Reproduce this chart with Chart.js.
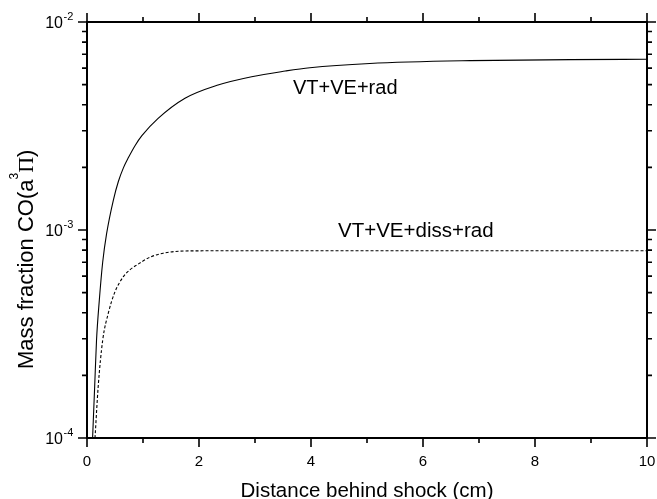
<!DOCTYPE html>
<html>
<head>
<meta charset="utf-8">
<script src="https://cdn.jsdelivr.net/npm/chart.js@4/dist/chart.umd.min.js"></script>
<style>
  html, body { margin: 0; padding: 0; background: #fff; }
  canvas { display: block; }
</style>
</head>
<body>
<canvas id="viz" width="657" height="499"></canvas>
<script>
// VT+VE+rad (solid)
var radX = [0.10, 0.137, 0.17, 0.22, 0.28, 0.35, 0.47, 0.56, 0.65, 0.74, 0.86, 0.98, 1.27, 1.75, 2.34, 2.94, 3.54, 3.98, 5.05, 6.84, 8.63, 10];
var radY = [1.0e-4, 1.77e-4, 2.95e-4, 4.6e-4, 7.0e-4, 9.6e-4, 1.39e-3, 1.71e-3, 1.99e-3, 2.23e-3, 2.55e-3, 2.84e-3, 3.44e-3, 4.30e-3, 4.98e-3, 5.46e-3, 5.81e-3, 6.03e-3, 6.32e-3, 6.52e-3, 6.59e-3, 6.62e-3];

// VT+VE+diss+rad (dashed)
var dissX = [0.143, 0.20, 0.28, 0.38, 0.49, 0.65, 0.77, 0.89, 1.125, 1.36, 1.66, 2.0, 2.49, 4, 6, 8, 10];
var dissY = [1.0e-4, 1.77e-4, 2.95e-4, 3.98e-4, 4.97e-4, 5.97e-4, 6.45e-4, 6.79e-4, 7.40e-4, 7.73e-4, 7.91e-4, 7.94e-4, 7.95e-4, 7.95e-4, 7.95e-4, 7.95e-4, 7.95e-4];

var xTicks = [0, 1, 2, 3, 4, 5, 6, 7, 8, 9, 10];
var xLabels = ['0', '', '2', '', '4', '', '6', '', '8', '', '10'];
var yDecades = [-4, -3, -2];

var FONT = '"Liberation Sans", Arial, Helvetica, sans-serif';

function toPoints(xs, ys) {
  return xs.map(function (x, i) { return { x: x, y: ys[i] }; });
}

// frame, ticks, labels and titles in the old plotting-package style
var axesPlugin = {
  id: 'axes',
  afterDraw: function (chart) {
    var ctx = chart.ctx;
    var a = chart.chartArea;
    var xs = chart.scales.x;
    var ys = chart.scales.y;
    ctx.save();
    ctx.strokeStyle = '#000';
    ctx.fillStyle = '#000';
    ctx.lineWidth = 2;
    ctx.strokeRect(a.left, a.top, a.right - a.left, a.bottom - a.top);

    // x ticks, bottom and top, pointing out
    ctx.lineWidth = 1.6;
    ctx.beginPath();
    xTicks.forEach(function (v, i) {
      var px = xs.getPixelForValue(v);
      var len = xLabels[i] ? 9 : 5;
      ctx.moveTo(px, a.bottom); ctx.lineTo(px, a.bottom + len);
      ctx.moveTo(px, a.top); ctx.lineTo(px, a.top - len);
    });
    // y ticks, left and right
    yDecades.forEach(function (d, k) {
      for (var m = 1; m <= 9; m++) {
        if (m > 1 && k === yDecades.length - 1) break;
        var py = ys.getPixelForValue(m * Math.pow(10, d));
        var len = m === 1 ? 9 : 5;
        ctx.moveTo(a.left, py); ctx.lineTo(a.left - len, py);
        ctx.moveTo(a.right, py); ctx.lineTo(a.right + len, py);
      }
    });
    ctx.stroke();

    // x tick labels
    ctx.font = '15px ' + FONT;
    ctx.textAlign = 'center';
    ctx.textBaseline = 'alphabetic';
    xTicks.forEach(function (v, i) {
      if (xLabels[i]) ctx.fillText(xLabels[i], xs.getPixelForValue(v), 466);
    });

    // y tick labels 10^n
    yDecades.forEach(function (d) {
      var py = ys.getPixelForValue(Math.pow(10, d));
      ctx.font = '16px ' + FONT;
      ctx.textAlign = 'right';
      ctx.textBaseline = 'alphabetic';
      ctx.fillText('10', 63, py + 6);
      ctx.font = '11px ' + FONT;
      ctx.textAlign = 'left';
      ctx.fillText('-' + (-d), 63.5, py - 2);
    });

    // x title
    ctx.font = '20.5px ' + FONT;
    ctx.textAlign = 'center';
    ctx.fillText('Distance behind shock (cm)', (a.left + a.right) / 2, 497);

    // y title, rotated, with superscript and Greek capital
    ctx.save();
    ctx.translate(33, 369);
    ctx.rotate(-Math.PI / 2);
    ctx.textAlign = 'left';
    ctx.font = '22px ' + FONT;
    var s1 = 'Mass fraction CO(a';
    ctx.fillText(s1, 0, 0);
    var w = ctx.measureText(s1).width;
    ctx.font = '12px ' + FONT;
    ctx.fillText('3', w, -15);
    w += ctx.measureText('3').width;
    ctx.font = '22px "Liberation Serif", "Times New Roman", serif';
    ctx.fillText('\u03A0', w, 0);
    w += ctx.measureText('\u03A0').width;
    ctx.font = '22px ' + FONT;
    ctx.fillText(')', w, 0);
    ctx.restore();

    // curve labels
    ctx.font = '20px ' + FONT;
    ctx.textAlign = 'left';
    ctx.fillText('VT+VE+rad', 293, 94);
    ctx.font = '20.5px ' + FONT;
    ctx.fillText('VT+VE+diss+rad', 338, 236.5);
    ctx.restore();
  }
};

var context = document.getElementById('viz').getContext('2d');

var chart = new Chart(context, {
  type: 'line',
  data: {
    datasets: [
      {
        label: 'VT+VE+rad',
        data: toPoints(radX, radY),
        borderColor: '#000',
        borderWidth: 1.1,
        pointRadius: 0,
        cubicInterpolationMode: 'monotone',
      },
      {
        label: 'VT+VE+diss+rad',
        data: toPoints(dissX, dissY),
        borderColor: '#000',
        borderWidth: 1.1,
        borderDash: [3, 2],
        pointRadius: 0,
        cubicInterpolationMode: 'monotone',
      },
    ],
  },
  options: {
    responsive: false,
    animation: false,
    layout: { padding: { left: 87, right: 10, top: 22, bottom: 61 } },
    plugins: { legend: { display: false }, tooltip: { enabled: false } },
    scales: {
      x: { type: 'linear', min: 0, max: 10, display: false },
      y: { type: 'logarithmic', min: 1e-4, max: 1e-2, display: false },
    },
  },
  plugins: [axesPlugin],
});
</script>
</body>
</html>
